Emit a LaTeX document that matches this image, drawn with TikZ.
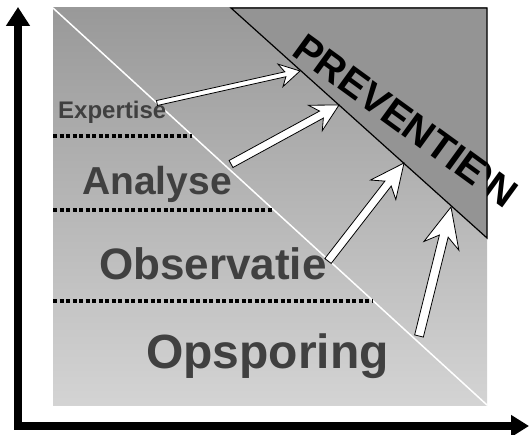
\documentclass[tikz,border=0pt]{standalone}
\usepackage{fontspec}
\setmainfont{Liberation Sans}
\usepackage{tikz}
\usetikzlibrary{arrows.meta,calc}
\definecolor{bgTop}{gray}{0.60}
\definecolor{bgBot}{gray}{0.83}
\definecolor{prevGray}{gray}{0.58}
\definecolor{lvlText}{gray}{0.25}
\tikzset{
  lvl/.style={anchor=base west,inner sep=0pt,text=lvlText},
  sep/.style={line width=3.5pt,dash pattern=on 4pt off 2.5pt},
  axisline/.style={line width=8pt,line join=miter,
                   {Triangle[length=19pt,width=23pt]}-{Triangle[length=18pt,width=21pt]}},
  prev/.style={anchor=base west,inner sep=0pt,rotate=-36,
               font=\fontsize{40}{40}\selectfont\bfseries},
  blk/.style={draw=black,fill=white,line width=0.8pt,line join=miter},
}
% from, to, half shaft, half head, head length, joint length
\newcommand{\blockarrow}[6]{%
  \coordinate (hb) at ($(#2)!#5!(#1)$);
  \coordinate (hj) at ($(#2)!#6!(#1)$);
  \draw[blk] ($(#1)!#3!90:(#2)$) -- ($(hj)!#3!90:(#2)$) -- ($(hb)!#4!90:(#2)$) -- (#2)
     -- ($(hb)!#4!-90:(#2)$) -- ($(hj)!#3!-90:(#2)$) -- ($(#1)!#3!-90:(#2)$) -- cycle;
}

\begin{document}
\begin{tikzpicture}[x=1pt,y=-1pt]
  \useasboundingbox (0,0) rectangle (529,435);
  %% ── Frame ───────────────────────────────────────────────────────────────
  \coordinate (tl) at (53,8);
  \coordinate (br) at (487,405);
  \shade[top color=bgTop,bottom color=bgBot] (tl) rectangle (br);
  \draw[white,line width=1.5pt] (tl) -- (br);

  %% ── Levels ──────────────────────────────────────────────────────────────
  \draw[sep] (53,136) -- (192,136);
  \draw[sep] (53,210) -- (273,210);
  \draw[sep] (53,301) -- (372,301);
  \node[lvl,font=\fontsize{24}{24}\selectfont\bfseries] (exp) at (58,119) {Expertise};
  \node[lvl,font=\fontsize{39}{39}\selectfont\bfseries] (ana) at (82,195) {Analyse};
  \node[lvl,font=\fontsize{44}{44}\selectfont\bfseries] (obs) at (99,279) {Observatie};
  \node[lvl,font=\fontsize{48}{48}\selectfont\bfseries] (ops) at (146,368) {Opsporing};

  %% ── Prevention corner ───────────────────────────────────────────────────
  \coordinate (tt) at (231,8);
  \coordinate (tr) at (487,8);
  \coordinate (tb) at (487,238);
  \node[prev] (prevEn) at (294,56.5) {PREVENTION};
  \draw[fill=prevGray,line width=1.2pt] (tt) -- (tr) -- (tb) -- cycle;
  \node[prev] (prevNl) at (290,54) {PREVENTIE};

  %% ── Arrows ──────────────────────────────────────────────────────────────
  \foreach \i/\sx/\sy/\ex/\ey in {1/157/103/300/71,2/231/164/339/105,
                                  3/328/261/404/163,4/419/336/451/207}{
    \coordinate (s\i) at (\sx,\sy);
    \coordinate (e\i) at (\ex,\ey);
  }
  \blockarrow{s1}{e1}{2.5pt}{11.5pt}{20pt}{15pt}
  \blockarrow{s2}{e2}{4pt}{14.5pt}{27pt}{20pt}
  \blockarrow{s3}{e3}{4pt}{16pt}{34pt}{26pt}
  \blockarrow{s4}{e4}{4.5pt}{18pt}{40pt}{30pt}

  %% ── Axes ────────────────────────────────────────────────────────────────
  \coordinate (ytip) at (18,7);
  \coordinate (xtip) at (529,426);
  \draw[axisline] (ytip) |- (xtip);
\end{tikzpicture}
\end{document}
